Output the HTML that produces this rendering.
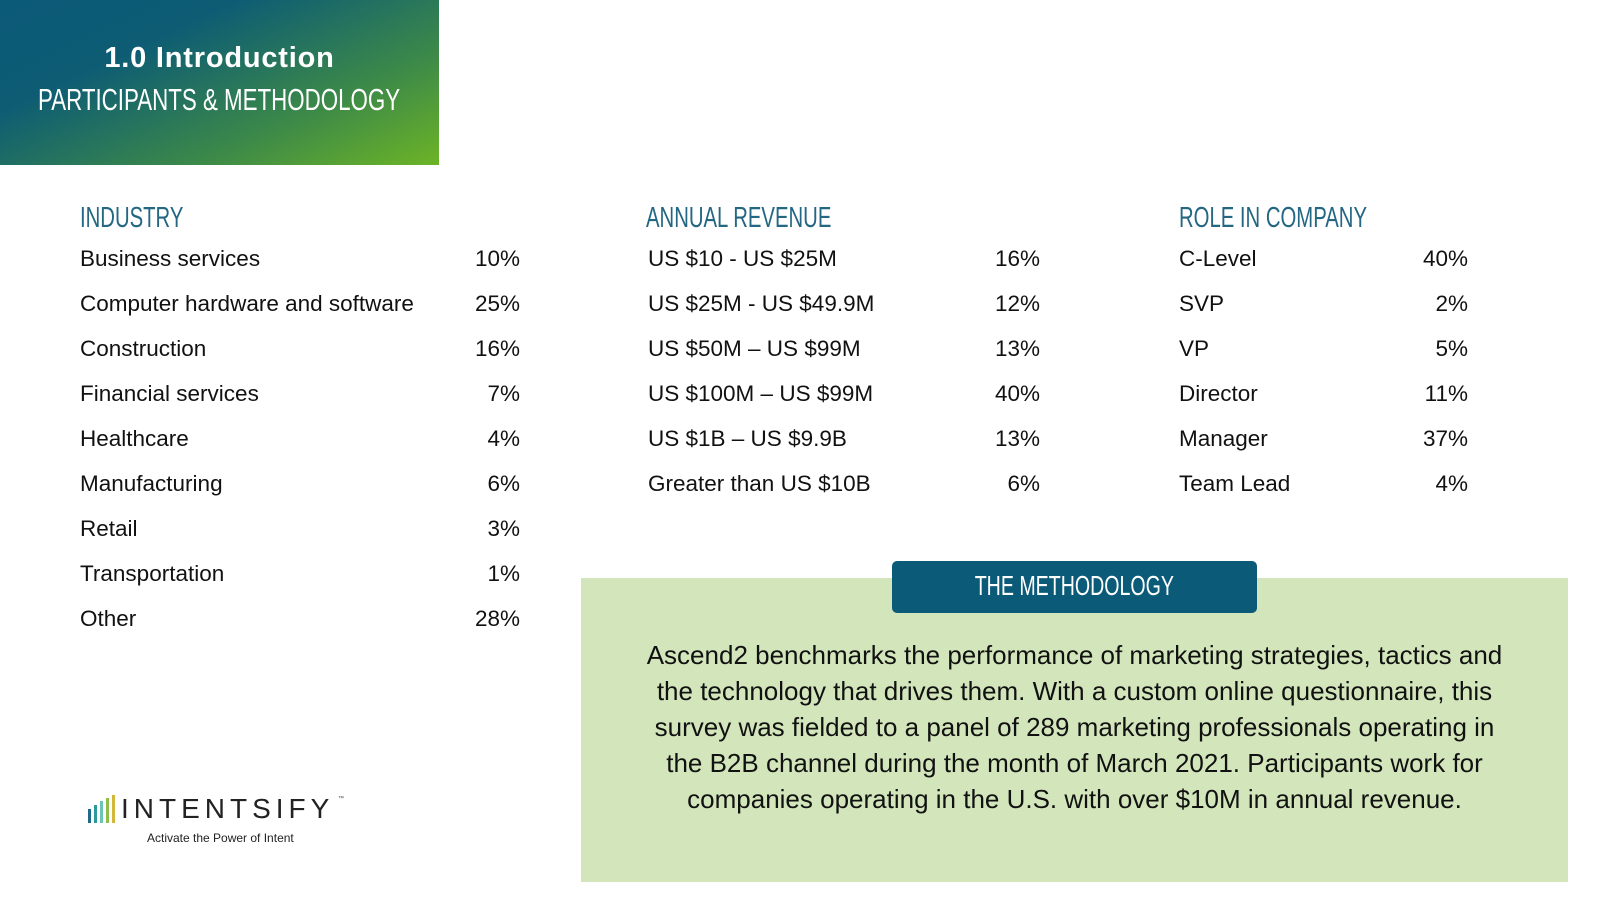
<!DOCTYPE html>
<html><head><meta charset="utf-8">
<style>
*{margin:0;padding:0;box-sizing:border-box}
body{width:1600px;height:900px;background:#fff;position:relative;overflow:hidden;font-family:"Liberation Sans",sans-serif;color:#111}
.hdr{position:absolute;left:0;top:0;width:439px;height:165px;background:linear-gradient(155deg,#0b5a78 0%,#0d5c74 30%,#3d8a48 70%,#6cb426 100%)}
.cond{display:inline-block;transform:scaleX(0.70);transform-origin:left center;white-space:nowrap}
.t1{position:absolute;left:0;width:439px;top:42px;text-align:center;color:#fff;font-weight:900;font-size:29px;letter-spacing:0.8px}
.t2{position:absolute;left:38px;top:82px;color:#fff;font-size:31px}
.t2 .cond{transform:scaleX(0.72)}
.h{position:absolute;top:202px;color:#246783;font-size:29px}
.row{position:absolute;font-size:22.5px;line-height:26px}
.val{position:absolute;font-size:22.5px;line-height:26px;text-align:right;width:80px}
.green{position:absolute;left:581px;top:578px;width:987px;height:304px;background:#d3e6bb}
.badge{position:absolute;left:892px;top:561px;width:365px;height:52px;background:#0b5a78;border-radius:5px;color:#fff;font-size:28px;text-align:center;line-height:50px}
.para{position:absolute;left:581px;width:987px;top:637px;text-align:center;font-size:26px;line-height:36px;color:#111}
</style></head><body>
<div class="hdr"></div>
<div class="t1">1.0 Introduction</div>
<div class="t2"><span class="cond">PARTICIPANTS &amp; METHODOLOGY</span></div>

<div class="h" style="left:80px"><span class="cond">INDUSTRY</span></div>
<div class="h" style="left:646px"><span class="cond">ANNUAL REVENUE</span></div>
<div class="h" style="left:1179px"><span class="cond">ROLE IN COMPANY</span></div>

<div id="tables"></div>

<div class="green"></div>
<div class="badge"><span class="cond" style="transform-origin:center">THE METHODOLOGY</span></div>
<div class="para">Ascend2 benchmarks the performance of marketing strategies, tactics and<br>the technology that drives them. With a custom online questionnaire, this<br>survey was fielded to a panel of 289 marketing professionals operating in<br>the B2B channel during the month of March 2021. Participants work for<br>companies operating in the U.S. with over $10M in annual revenue.</div>

<div style="position:absolute;left:86px;top:793px;width:260px;height:54px">
  <div style="position:absolute;left:2px;top:16px;width:3px;height:14px;background:#1d6a8a"></div>
  <div style="position:absolute;left:8px;top:12px;width:3px;height:18px;background:#2a9a9a"></div>
  <div style="position:absolute;left:14px;top:8px;width:3px;height:22px;background:#6cc4b8"></div>
  <div style="position:absolute;left:20px;top:5px;width:3px;height:25px;background:#8cc04a"></div>
  <div style="position:absolute;left:26px;top:2px;width:3px;height:28px;background:#d4b63a"></div>
  <div style="position:absolute;left:35px;top:0px;font-size:28px;letter-spacing:5px;color:#222;line-height:32px">INTENTSIFY</div>
  <div style="position:absolute;left:252px;top:3px;font-size:6px;color:#444">™</div>
  <div style="position:absolute;left:61px;top:38px;font-size:12px;color:#222">Activate the Power of Intent</div>
</div>

<script>
const industryLabels=["Business services","Computer hardware and software","Construction","Financial services","Healthcare","Manufacturing","Retail","Transportation","Other"];
const industryValues=[10,25,16,7,4,6,3,1,28];
const revenueLabels=["US $10 - US $25M","US $25M - US $49.9M","US $50M – US $99M","US $100M – US $99M","US $1B – US $9.9B","Greater than US $10B"];
const revenueValues=[16,12,13,40,13,6];
const roleLabels=["C-Level","SVP","VP","Director","Manager","Team Lead"];
const roleValues=[40,2,5,11,37,4];
const root=document.getElementById('tables');
function table(labels,values,lx,rx,prefix){
  labels.forEach((l,i)=>{
    const y=246+i*45;
    const a=document.createElement('div');
    a.className='row';a.style.left=lx+'px';a.style.top=y+'px';a.textContent=l;
    
    
    root.appendChild(a);
    const b=document.createElement('div');
    b.className='val';b.style.left=(rx-80)+'px';b.style.top=y+'px';b.textContent=values[i]+'%';
    
    
    root.appendChild(b);
  });
}
table(industryLabels,industryValues,80,520,'industry');
table(revenueLabels,revenueValues,648,1040,'revenue');
table(roleLabels,roleValues,1179,1468,'role');
</script>
</body></html>
